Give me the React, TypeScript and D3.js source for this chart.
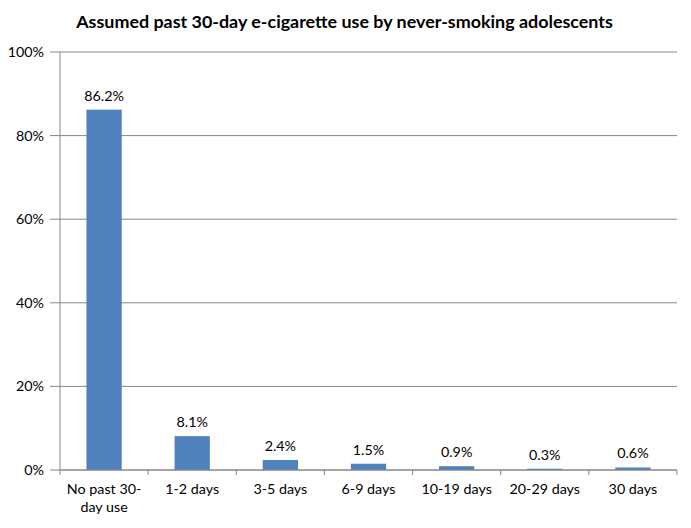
import * as d3 from "d3";

const categories = [
  "No past 30-day use",
  "1-2 days",
  "3-5 days",
  "6-9 days",
  "10-19 days",
  "20-29 days",
  "30 days",
];
// wrapped labels as drawn on the axis
const categoryLines = [
  ["No past 30-", "day use"],
  ["1-2 days"],
  ["3-5 days"],
  ["6-9 days"],
  ["10-19 days"],
  ["20-29 days"],
  ["30 days"],
];
const values = [86.2, 8.1, 2.4, 1.5, 0.9, 0.3, 0.6];
const yTicks = [0, 20, 40, 60, 80, 100];

const title = "Assumed past 30-day e-cigarette use by never-smoking adolescents";

export default function App() {
  const width = 691;
  const height = 528;
  const left = 60;
  const right = 677;
  const top = 52;
  const bottom = 470;
  const font = "Lato, 'Open Sans', sans-serif";
  const gray = "#868686";

  const x = d3
    .scaleBand<string>()
    .domain(categories)
    .range([left, right])
    .paddingInner(0.6)
    .paddingOuter(0.3);
  const y = d3.scaleLinear().domain([0, 100]).range([bottom, top]);

  // límites entre categorías, donde van las marcas del eje x
  const bounds = d3.range(categories.length + 1).map((i) => left + i * ((right - left) / categories.length));
  const mid = (c: string) => (x(c) ?? 0) + x.bandwidth() / 2;

  return (
    <svg
      width={width}
      height={height}
      style={{ position: "absolute", left: 0, top: 0, background: "#fff" }}
      fontFamily={font}
    >
      {/* Título */}
      <text x={344.5} y={28} textAnchor="middle" fontSize={17.9} fontWeight="bold" fill="#000">
        {title}
      </text>

      {/* Grid y ticks */}
      {yTicks.map((t) => (
        <g key={t}>
          <line x1={left - 10} x2={right} y1={y(t)} y2={y(t)} stroke={gray} strokeWidth={1} />
          <text x={44} y={y(t) + 5} textAnchor="end" fontSize={14.3} fill="#000">
            {t}%
          </text>
        </g>
      ))}

      {/* Barras */}
      {values.map((v, i) => (
        <g key={categories[i]}>
          <rect
            x={x(categories[i])}
            y={y(v)}
            width={x.bandwidth()}
            height={bottom - y(v)}
            fill="#4F81BD"
          />
          <text x={mid(categories[i])} y={y(v) - 9} textAnchor="middle" fontSize={14.3} fill="#000">
            {v.toFixed(1)}%
          </text>
        </g>
      ))}

      {/* Ejes */}
      <line x1={left} x2={left} y1={top} y2={bottom} stroke={gray} />
      <line x1={left} x2={right} y1={bottom} y2={bottom} stroke={gray} />
      {bounds.map((b, i) => (
        <line key={i} x1={b} x2={b} y1={bottom} y2={bottom + 5} stroke={gray} />
      ))}
      {categoryLines.map((lines, i) => (
        <text key={categories[i]} x={mid(categories[i])} y={494} textAnchor="middle" fontSize={14.3} fill="#000">
          {lines.map((l, j) => (
            <tspan key={j} x={mid(categories[i])} dy={j === 0 ? 0 : 18}>
              {l}
            </tspan>
          ))}
        </text>
      ))}
    </svg>
  );
}
